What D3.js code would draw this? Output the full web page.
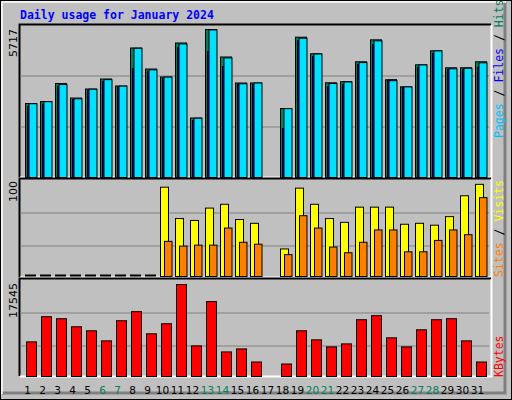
<!DOCTYPE html>
<html><head><meta charset="utf-8">
<script src="https://cdn.jsdelivr.net/npm/d3@7"></script>
<style>body{margin:0;background:#fff}svg{display:block}</style>
</head><body><svg id="c" width="512" height="400"></svg>
<script>
const days = d3.range(1, 32);
const weekends = [6, 7, 13, 14, 20, 21, 27, 28];
const hits  = [2858,2936,3631,3070,3418,3805,3534,5003,4190,3882,5196,2298,5717,4655,3651,3651,0,2665,5420,4779,3658,3700,4470,5318,3774,3503,4353,4894,4238,4238,4470];
const files = [2850,2930,3590,3040,3410,3780,3530,4990,4160,3880,5160,2290,5700,4620,3620,3650,0,2660,5380,4770,3630,3690,4440,5280,3740,3500,4350,4890,4200,4220,4430];
const pages = [2742,2839,3515,3013,3360,3708,3515,4210,4094,3824,5022,2202,4866,4287,3592,3592,0,1893,5292,4674,3515,3592,4364,5138,3766,3476,4249,4790,4171,4171,4249];
const visits= [0,0,0,0,0,0,0,0,0,94,61,59,72,76,60,56,0,29,93,76,61,57,73,73,73,55,56,54,63,85,97];
const sites = [0,0,0,0,0,0,0,0,0,37,32,33,33,51,36,34,0,23,64,51,31,25,36,49,49,26,26,38,49,44,83];
const kbytes= [6603,11403,11018,9483,8715,6795,10635,12362,8139,10059,17545,5836,14282,4684,5260,2764,0,2380,8715,6987,5644,6219,10827,11594,7371,5644,8907,10827,11018,6795,2764];
const maxHits = 5717, maxVisits = 100, maxK = 17545;

const svg = d3.select("#c");
svg.append("rect").attr("x",0).attr("y",0).attr("width",512).attr("height",400).attr("fill","#c0c0c0");
svg.append("rect").attr("x",0.5).attr("y",0.5).attr("width",511).attr("height",399).attr("fill","none").attr("stroke","#000");
svg.append("path").attr("d","M505,2V393H2").attr("fill","none").attr("stroke","#808080").attr("stroke-width",3);
svg.append("path").attr("d","M2,394V2H506").attr("fill","none").attr("stroke","#fff").attr("stroke-width",1.5);

svg.append("text").attr("x",20).attr("y",19).text("Daily usage for January 2024")
  .attr("font-family","DejaVu Sans Mono").attr("font-weight","bold").attr("font-size",11.5).attr("fill","#0000ff");

const X0 = 20, X1 = 491;
const x = d3.scaleBand().domain(days).range([X0, X0 + 15*31]).paddingInner(0);
const panels = [{t:25,b:177},{t:179,b:277},{t:279,b:376}];
panels.forEach(p=>{
  svg.append("rect").attr("x",X0).attr("y",p.t).attr("width",X1-X0).attr("height",p.b-p.t).attr("fill","#c0c0c0");
  svg.append("path").attr("d",`M${X0-0.5},${p.b}V${p.t-0.5}H${X1}`).attr("stroke","#000").attr("fill","none").attr("stroke-width",2);
  svg.append("path").attr("d",`M${X0},${p.b+0.5}H${X1+0.5}V${p.t}`).attr("stroke","#fff").attr("fill","none").attr("stroke-width",2);
});

// Top panel
const y1 = d3.scaleLinear().domain([0, maxHits]).range([177, 29]);
[76,127].forEach(g=>svg.append("line").attr("x1",X0).attr("x2",X1-2).attr("y1",g).attr("y2",g).attr("stroke","#808080"));
const g1 = svg.append("g").attr("stroke","#000").attr("stroke-width",1);
function bars(g, data, y, off, w, color){
  g.selectAll(null).data(days.filter((d,i)=>data[i]>0)).join("rect")
    .attr("x", d=>x(d)+off+0.5).attr("width", w)
    .attr("y", d=>y(data[d-1])+0.5).attr("height", d=>y.range()[0]-y(data[d-1]))
    .attr("fill", color);
}
bars(g1, hits, y1, 5, 11, "#00805c");
bars(g1, pages, y1, 7, 9, "#0000ff");
bars(g1, files, y1, 8.5, 8, "#00e0ff");

// Middle panel
const y2 = d3.scaleLinear().domain([0, maxVisits]).range([276, 181]);
[213,246].forEach(g=>svg.append("line").attr("x1",X0).attr("x2",X1-2).attr("y1",g).attr("y2",g).attr("stroke","#808080"));
const g2 = svg.append("g").attr("stroke","#000");
bars(g2, visits, y2, 5, 8, "#ffff00");
bars(g2, sites, y2, 9, 7.5, "#ff8000");
svg.append("g").selectAll("rect").data(days.filter((d,i)=>visits[i]===0 && i<16)).join("rect")
  .attr("x",d=>x(d)+5).attr("width",11).attr("y",274.5).attr("height",2).attr("fill","#000");

// Bottom panel
const y3 = d3.scaleLinear().domain([0, maxK]).range([376, 284]);
[313,346].forEach(g=>svg.append("line").attr("x1",X0).attr("x2",X1-2).attr("y1",g).attr("y2",g).attr("stroke","#808080"));
const g3 = svg.append("g").attr("stroke","#000");
bars(g3, kbytes, y3, 6, 10, "#ff0000");

// Day labels
svg.append("g").selectAll("text").data(days).join("text")
  .attr("x", d=>x(d)+x.bandwidth()/2).attr("y", 394).attr("text-anchor","middle")
  .attr("font-family","DejaVu Sans").attr("font-size",10.5)
  .attr("fill", d=>weekends.includes(d)?"#00805c":"#000").text(d=>d);

// Max labels (rotated)
function vlabel(txt, yTop){
  svg.append("text").attr("transform",`translate(17,${yTop}) rotate(-90)`).attr("text-anchor","end")
    .attr("font-family","DejaVu Sans").attr("font-size",11).attr("fill","#000").text(txt);
}
vlabel(String(maxHits), 29); vlabel(String(maxVisits), 181); vlabel(String(maxK), 283);

// Right legends
function rlegend(parts, yTop){
  const t = svg.append("text").attr("transform",`translate(503,${yTop}) rotate(90)`)
    .attr("font-family","DejaVu Sans Mono").attr("font-size",11.5).attr("font-weight","bold").attr("text-anchor","start");
  parts.forEach(p=>t.append("tspan").attr("fill",p[1]).text(p[0]));
}
function rlegendUp(parts, yBottom){
  const t = svg.append("text").attr("transform",`translate(503,${yBottom}) rotate(-90)`)
    .attr("font-family","DejaVu Sans Mono").attr("font-size",11.5).attr("text-anchor","start");
  parts.forEach(p=>t.append("tspan").attr("fill",p[1]).text(p[0]));
}
rlegendUp([["Pages","#00c0ff"],[" / ","#000"],["Files","#0000ff"],[" / ","#000"],["Hits","#00805c"]], 138);
rlegendUp([["Sites","#ff8000"],[" / ","#000"],["Visits","#ffff00"]], 277);
rlegendUp([["KBytes","#ff0000"]], 377);
</script></body></html>
